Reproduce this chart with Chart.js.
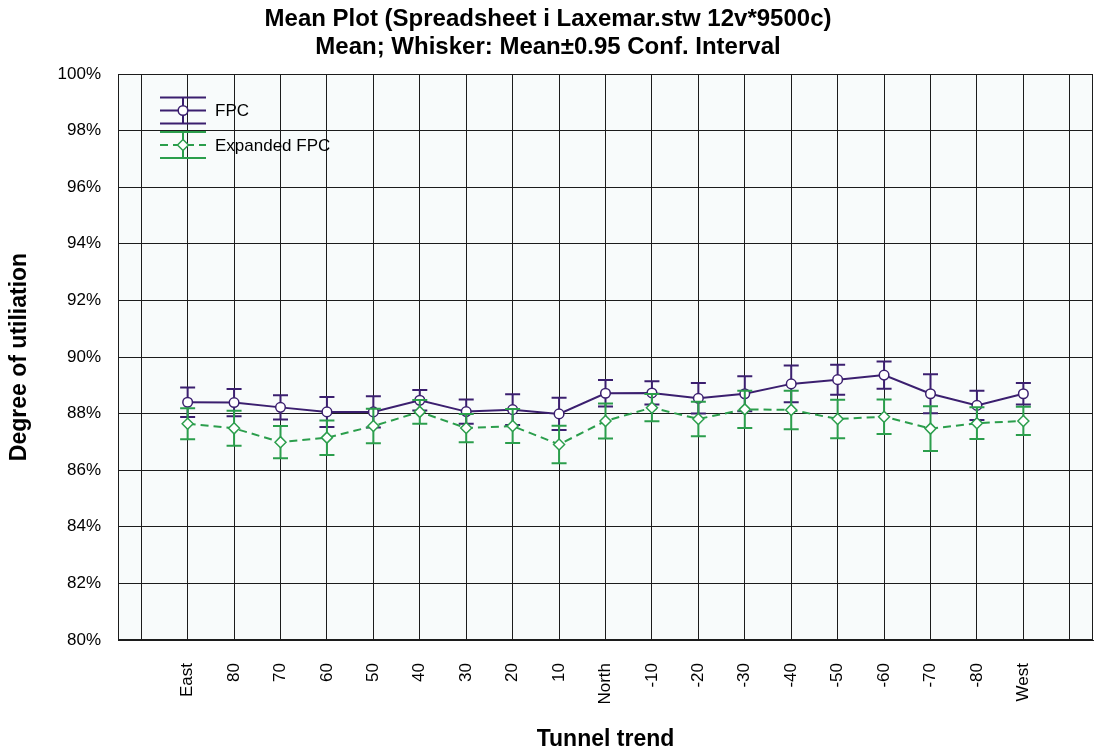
<!DOCTYPE html>
<html>
<head>
<meta charset="utf-8">
<title>Mean Plot</title>
<script src="https://cdn.jsdelivr.net/npm/chart.js@4/dist/chart.umd.min.js"></script>
<style>
  html, body { margin: 0; padding: 0; background: #fff; }
  #wrap { width: 1096px; height: 753px; position: relative; }
</style>
</head>
<body>
<div id="wrap"><canvas id="meanPlot"></canvas></div>
<script>
"use strict";

// Tunnel positions along the x axis
const categories = ['East', '80', '70', '60', '50', '40', '30', '20', '10', 'North',
    '-10', '-20', '-30', '-40', '-50', '-60', '-70', '-80', 'West'];

// Means (%) and half-width of the 0.95 confidence interval
const fpcMean = [88.40, 88.39, 88.22, 88.06, 88.06, 88.47, 88.07, 88.14, 87.99, 88.72,
    88.73, 88.54, 88.70, 89.05, 89.20, 89.36, 88.70, 88.29, 88.70];
const fpcCI = [0.52, 0.48, 0.43, 0.53, 0.55, 0.36, 0.43, 0.54, 0.57, 0.47,
    0.41, 0.54, 0.62, 0.65, 0.53, 0.48, 0.69, 0.52, 0.38];

const expMean = [87.64, 87.48, 86.99, 87.15, 87.56, 88.06, 87.49, 87.56, 86.91, 87.74,
    88.21, 87.81, 88.15, 88.13, 87.81, 87.89, 87.47, 87.66, 87.74];
const expCI = [0.55, 0.62, 0.57, 0.61, 0.61, 0.42, 0.50, 0.60, 0.66, 0.62,
    0.48, 0.61, 0.66, 0.68, 0.68, 0.61, 0.79, 0.56, 0.50];

const yMin = 80;
const yMax = 100;
const yStep = 2;

const titleLines = [
    'Mean Plot (Spreadsheet i Laxemar.stw 12v*9500c)',
    'Mean; Whisker: Mean\u00b10.95 Conf. Interval'
];

const FONT = '"Liberation Sans", Arial, sans-serif';
const PURPLE = '#3b1f6f';
const GREEN = '#2b9e4c';
const GRID = '#1c1c1c';

const toPoints = (means) => means.map((y, i) => ({ x: i, y }));

// grid line positions: one per category plus an empty slot each side
const gridPositions = [];
for (let i = -1; i <= categories.length; i++) gridPositions.push(i);

// Whiskers go under the line and markers of their own dataset
const whiskerPlugin = {
    id: 'whiskers',
    beforeDatasetDraw(chart, args) {
        const ds = chart.data.datasets[args.index];
        if (!ds.ci) return;
        const { ctx } = chart;
        const x = chart.scales.x;
        const y = chart.scales.y;
        ctx.save();
        ctx.strokeStyle = ds.borderColor;
        ctx.lineWidth = 2;
        ctx.setLineDash([]);
        ds.data.forEach((p, i) => {
            const px = x.getPixelForValue(p.x);
            const top = y.getPixelForValue(p.y + ds.ci[i]);
            const bot = y.getPixelForValue(p.y - ds.ci[i]);
            ctx.beginPath();
            ctx.moveTo(px, top);
            ctx.lineTo(px, bot);
            ctx.moveTo(px - 7.5, top);
            ctx.lineTo(px + 7.5, top);
            ctx.moveTo(px - 7.5, bot);
            ctx.lineTo(px + 7.5, bot);
            ctx.stroke();
        });
        ctx.restore();
    }
};

// Plot background, frame, titles
const framePlugin = {
    id: 'frame',
    beforeDraw(chart) {
        const { ctx, chartArea: a } = chart;
        ctx.save();
        ctx.fillStyle = '#f8fbfb';
        ctx.fillRect(a.left, a.top, a.right - a.left, a.bottom - a.top);
        ctx.fillStyle = '#000';
        ctx.font = 'bold 24px ' + FONT;
        ctx.textAlign = 'center';
        ctx.textBaseline = 'middle';
        ctx.fillText(titleLines[0], chart.width / 2, 19.5);
        ctx.fillText(titleLines[1], chart.width / 2, 47.5);
        ctx.restore();
    },
    beforeDatasetsDraw(chart) {
        const { ctx, chartArea: a } = chart;
        ctx.save();
        ctx.strokeStyle = GRID;
        ctx.lineWidth = 1;
        ctx.strokeRect(Math.round(a.left) + 0.5, Math.round(a.top) + 0.5,
            Math.round(a.right - a.left) - 1, Math.round(a.bottom - a.top) - 1);
        ctx.restore();
    }
};

// Legend with the whisker symbol of each series
const legendPlugin = {
    id: 'whiskerLegend',
    afterDatasetsDraw(chart) {
        const { ctx } = chart;
        const cx = 183;
        const half = 23;
        const items = chart.data.datasets.map((ds, i) => ({ ds, cy: i === 0 ? 110.5 : 145 }));
        ctx.save();
        items.forEach(({ ds, cy }) => {
            ctx.strokeStyle = ds.borderColor;
            ctx.lineWidth = 2;
            ctx.setLineDash([]);
            ctx.beginPath();
            ctx.moveTo(cx - half, cy - 13);
            ctx.lineTo(cx + half, cy - 13);
            ctx.moveTo(cx - half, cy + 13);
            ctx.lineTo(cx + half, cy + 13);
            ctx.moveTo(cx, cy - 13);
            ctx.lineTo(cx, cy + 13);
            ctx.stroke();
            ctx.setLineDash(ds.borderDash || []);
            ctx.beginPath();
            ctx.moveTo(cx - half, cy);
            ctx.lineTo(cx + half, cy);
            ctx.stroke();
            ctx.setLineDash([]);
            ctx.fillStyle = '#fff';
            ctx.lineWidth = 1.5;
            ctx.beginPath();
            if (ds.pointStyle === 'rectRot') {
                const r = 5.5;
                ctx.moveTo(cx, cy - r);
                ctx.lineTo(cx + r, cy);
                ctx.lineTo(cx, cy + r);
                ctx.lineTo(cx - r, cy);
                ctx.closePath();
            } else {
                ctx.arc(cx, cy, 4.8, 0, Math.PI * 2);
            }
            ctx.fill();
            ctx.stroke();
            ctx.fillStyle = '#000';
            ctx.font = '17px ' + FONT;
            ctx.textAlign = 'left';
            ctx.textBaseline = 'middle';
            ctx.fillText(ds.label, 215, cy + 1);
        });
        ctx.restore();
    }
};

const ctx = document.getElementById('meanPlot').getContext('2d');
const chart = new Chart(ctx, {
    type: 'line',
    data: {
        datasets: [{
            label: 'FPC',
            data: toPoints(fpcMean),
            ci: fpcCI,
            borderColor: PURPLE,
            borderWidth: 2,
            pointStyle: 'circle',
            pointRadius: 4.8,
            pointBackgroundColor: '#fff',
            pointBorderColor: PURPLE,
            pointBorderWidth: 1.5,
            tension: 0,
            order: 2
        }, {
            label: 'Expanded FPC',
            data: toPoints(expMean),
            ci: expCI,
            borderColor: GREEN,
            borderWidth: 2,
            borderDash: [8, 5],
            pointStyle: 'rectRot',
            pointRadius: 5.5,
            pointBackgroundColor: '#fff',
            pointBorderColor: GREEN,
            pointBorderWidth: 1.5,
            tension: 0,
            order: 1
        }]
    },
    options: {
        responsive: true,
        maintainAspectRatio: false,
        animation: false,
        devicePixelRatio: 1,
        layout: { autoPadding: false, padding: { top: 74, right: 3, left: 0, bottom: 0 } },
        plugins: {
            legend: { display: false },
            tooltip: { enabled: false }
        },
        scales: {
            x: {
                type: 'linear',
                min: -1.5,
                max: categories.length + 0.5,
                afterBuildTicks: (s) => { s.ticks = gridPositions.map(v => ({ value: v })); },
                afterFit: (s) => {
                    s.height = 113;
                    s.paddingLeft = 0;
                    s.paddingRight = 0;
                },
                grid: { color: GRID, lineWidth: 1, drawTicks: false },
                border: { display: true, color: GRID },
                ticks: {
                    autoSkip: false,
                    minRotation: 90,
                    maxRotation: 90,
                    padding: 23,
                    color: '#000',
                    font: { family: FONT, size: 17 },
                    callback: (v) => categories[v] ?? ''
                },
                title: {
                    display: true,
                    text: 'Tunnel trend',
                    color: '#000',
                    font: { family: FONT, size: 23, weight: 'bold' },
                    padding: { top: 0, bottom: 0 }
                }
            },
            y: {
                min: yMin,
                max: yMax,
                afterFit: (s) => { s.width = 118; },
                grid: { color: GRID, lineWidth: 1, drawTicks: false },
                border: { display: true, color: GRID },
                ticks: {
                    stepSize: yStep,
                    padding: 17,
                    color: '#000',
                    font: { family: FONT, size: 17 },
                    callback: (v) => v + '%'
                },
                title: {
                    display: true,
                    text: 'Degree of utiliation',
                    color: '#000',
                    font: { family: FONT, size: 23, weight: 'bold' },
                    padding: { top: 6, bottom: 0 }
                }
            }
        }
    },
    plugins: [framePlugin, whiskerPlugin, legendPlugin]
});
</script>
</body>
</html>
